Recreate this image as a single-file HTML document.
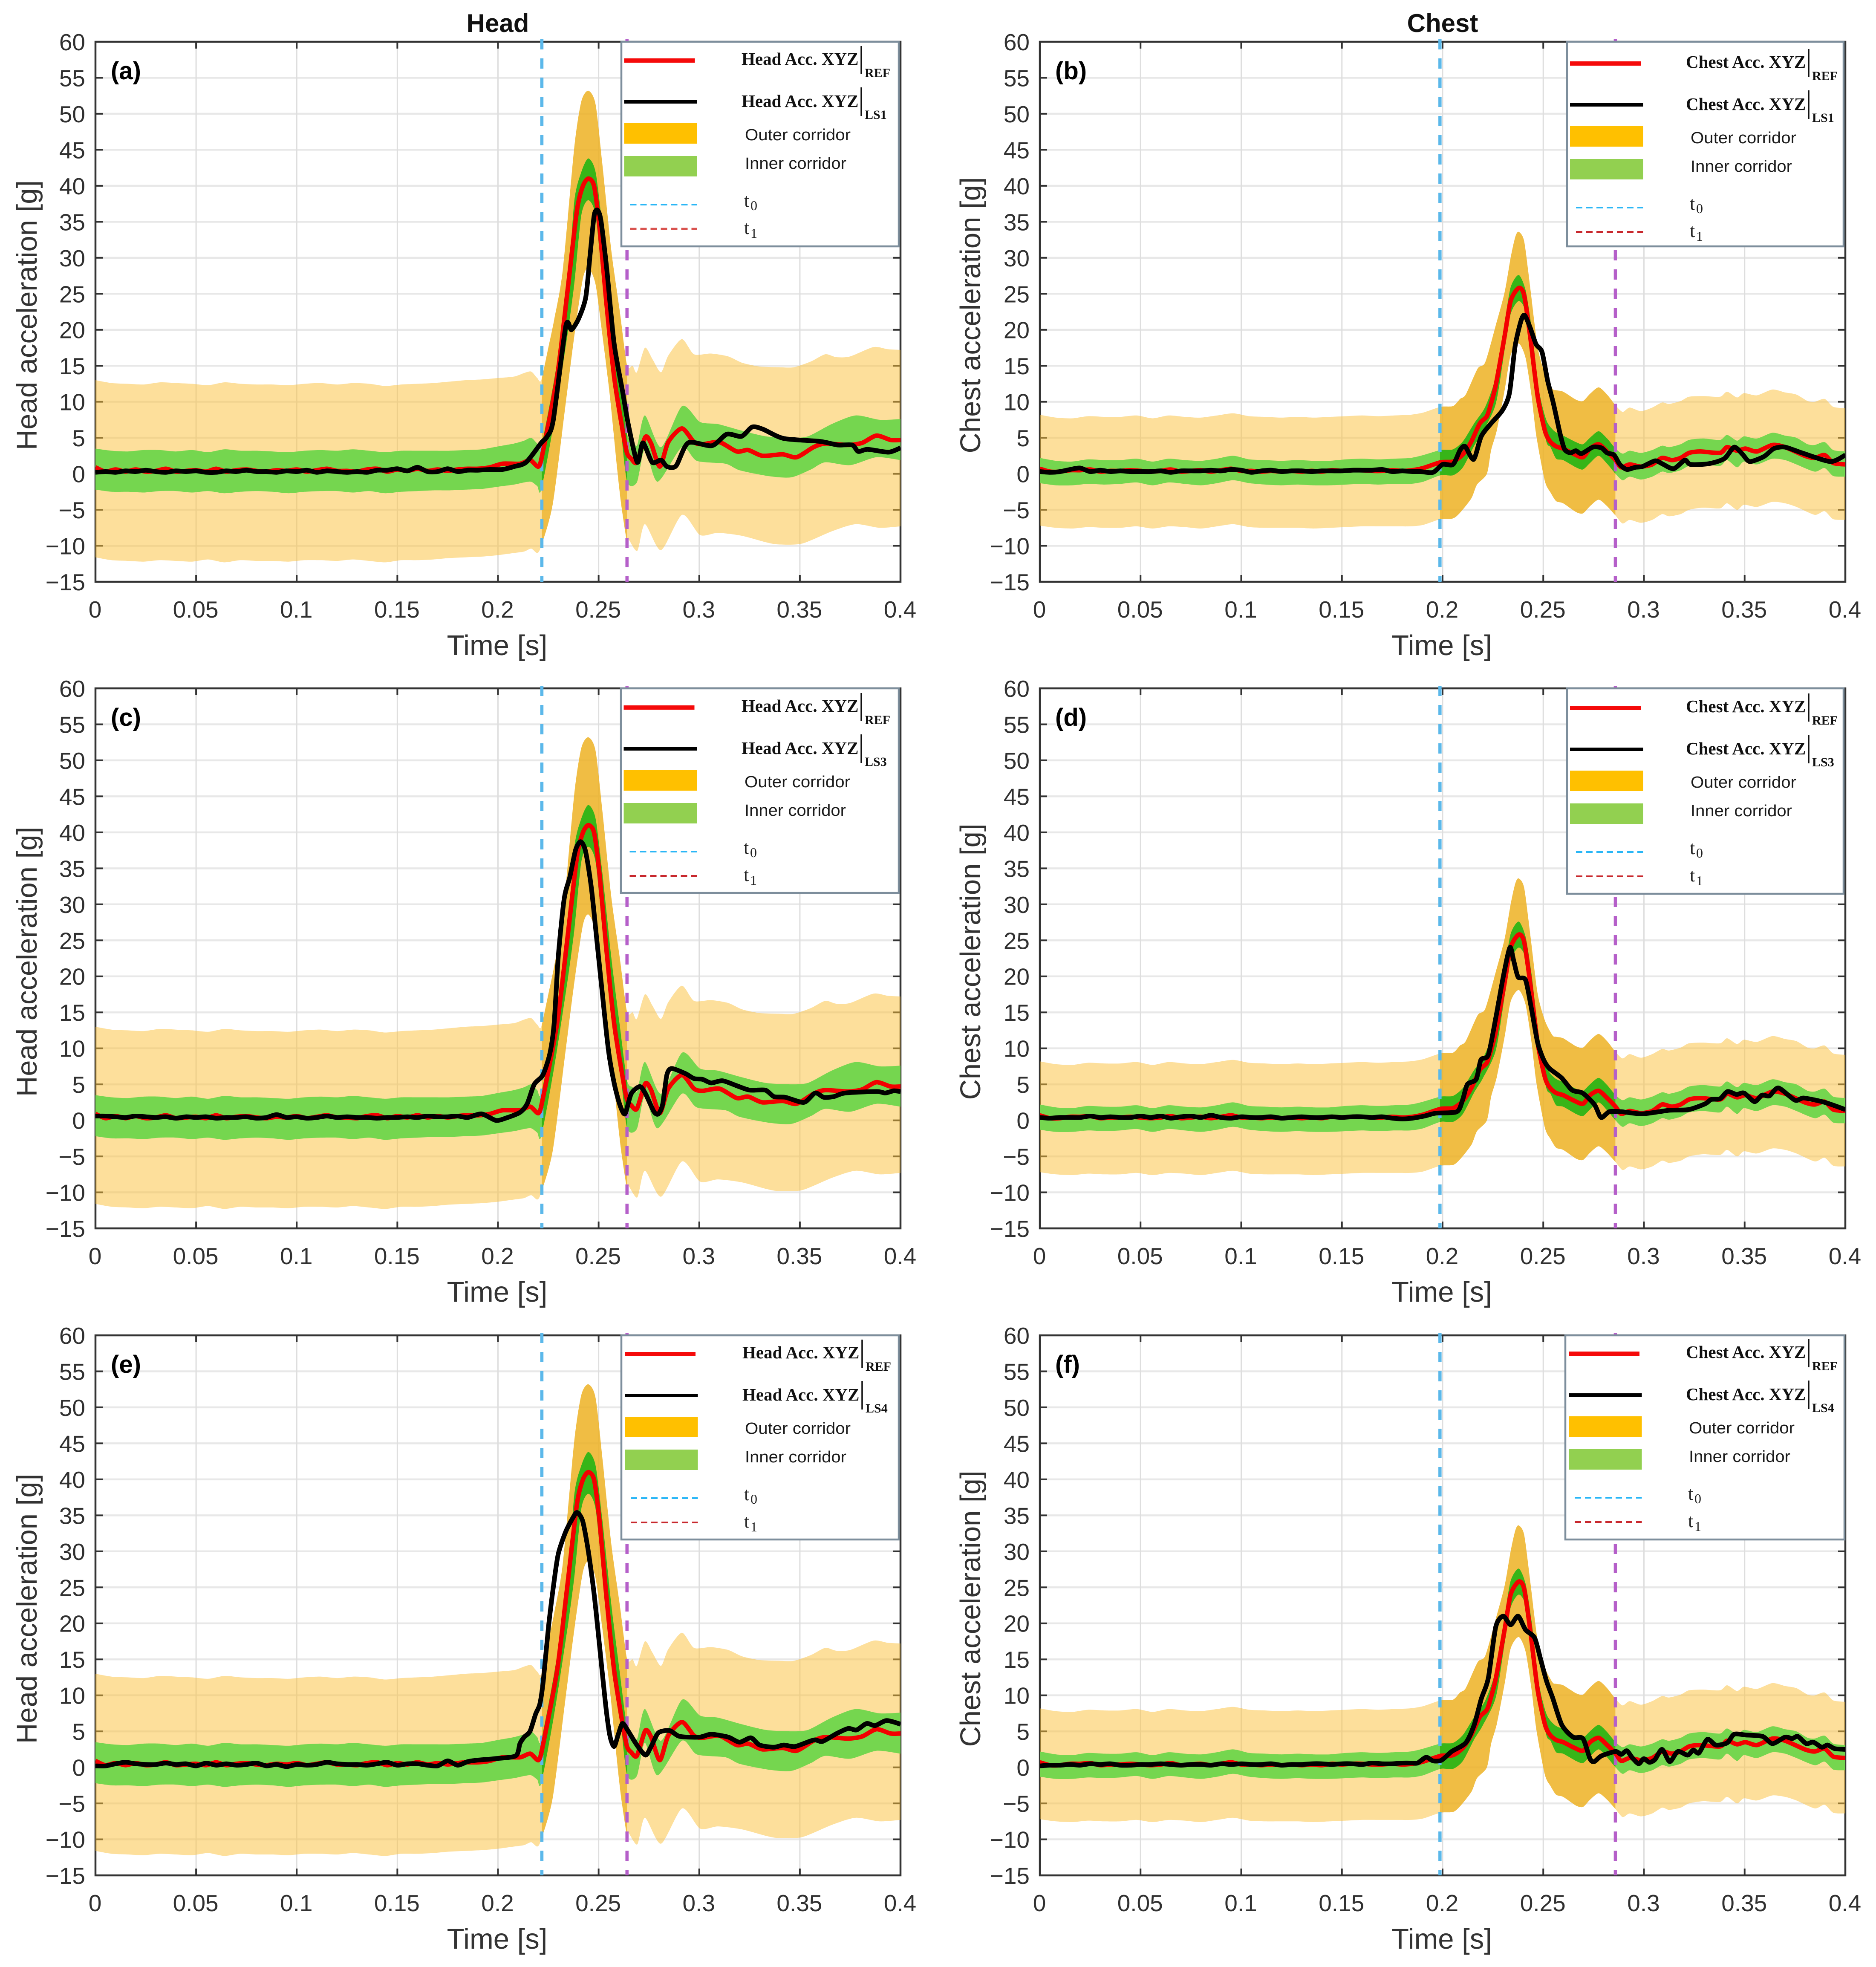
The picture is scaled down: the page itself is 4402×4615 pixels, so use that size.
<!DOCTYPE html>
<html lang="en">
<head>
<meta charset="utf-8">
<title>Head and chest acceleration corridors</title>
<style>
html,body{margin:0;padding:0;background:#fff;}
svg{display:block;}
text{font-family:"Liberation Sans",sans-serif;}
.tick{font-size:55px;fill:#303030;}
.axis-title{font-size:67px;fill:#333;}
.panel-title{font-size:60px;font-weight:bold;fill:#111;}
.letter{font-size:58px;font-weight:bold;fill:#000;}
.lg-serif{font-family:"Liberation Serif",serif;font-size:41px;font-weight:bold;fill:#111;}
.lg-sub{font-family:"Liberation Serif",serif;font-size:30px;font-weight:bold;fill:#111;}
.lg-sans{font-size:38px;fill:#1a1a1a;}
.lg-t{font-family:"Liberation Serif",serif;font-size:44px;fill:#222;}
.lg-ts{font-family:"Liberation Serif",serif;font-size:32px;fill:#222;}
</style>
</head>
<body>
<svg id="figure" xmlns="http://www.w3.org/2000/svg" width="4402" height="4615" viewBox="0 0 4402 4615">
<rect x="0" y="0" width="4402" height="4615" fill="#fff"/>
</svg>
<script>
/* ---------- axis labels ---------- */
const yTickValues=[-15,-10,-5,0,5,10,15,20,25,30,35,40,45,50,55,60];
const yTickLabels=['\u221215','\u221210','\u22125','0','5','10','15','20','25','30','35','40','45','50','55','60'];
const xTickValues=[0,0.05,0.1,0.15,0.2,0.25,0.3,0.35,0.4];
const xTickLabels=['0','0.05','0.1','0.15','0.2','0.25','0.3','0.35','0.4'];

/* ---------- shared pre-impact sample times ---------- */
const flatT=[0,.008,.016,.024,.032,.04,.048,.056,.064,.072,.08,.088,.096,.104,.112,.12,.128,.136,.144,.152,.16,.168,.176,.184];
const lineT=[0,.005,.01,.015,.02,.025,.03,.035,.04,.045,.05,.055,.06,.065,.07,.075,.08,.085,.09,.095,.1,.105,.11,.115,.12,.125,.13,.135,.14,.145,.15,.155,.16,.165,.17,.175,.18,.185];

/* ---------- head corridors ---------- */
const headOuterUpperT=[.192,.2,.208,.213,.2165,.2195,.2215,.225,.228,.2322,.2379,.2414,.2449,.2485,.252,.2563,.2605,.2641,.2669,.269,.273,.2768,.281,.2846,.2914,.2974,.3058,.3144,.3215,.33,.34,.347,.3555,.3626,.368,.375,.3866,.3936,.4];
const headOuterUpperV=[13.1,13.3,13.5,14,14.2,13.3,13,17.5,21.5,28.3,45.3,51.7,53.2,51.3,42.6,31,22.6,15.1,15,14.1,17.5,15.9,14.1,16.4,18.7,16.6,16.7,16.3,15.4,14.9,14.8,14.8,15.6,16.6,16.2,16.3,17.6,17.3,17.2];
const headOuterUpperFlat=[13,12.6,12.5,12.4,12.7,12.6,12.5,12.3,12.7,12.5,12.4,12.4,12.3,12.5,12.6,12.4,12.6,12.5,12.2,12.4,12.5,12.6,12.8,13];
const headOuterLowerT=[.192,.2,.208,.213,.2165,.2195,.2215,.2272,.2336,.2379,.2421,.2449,.2485,.252,.2556,.2591,.2612,.2641,.2647,.2692,.273,.281,.2915,.3004,.3093,.321,.333,.339,.351,.3658,.3777,.3896,.4];
const headOuterLowerV=[-11.5,-11.3,-11,-10.8,-10.4,-11,-10,-4.2,9.7,19.1,27,28.6,26.3,19,10.8,1,-4.2,-9.5,-9,-10.7,-7,-10.6,-5.7,-8.5,-8.2,-8.6,-9.5,-9.8,-9.7,-8,-7,-7.5,-7.3];
const headOuterLowerFlat=[-11.6,-12,-12.1,-12.2,-12,-12.1,-12.2,-11.9,-12.3,-12,-12.1,-12.1,-12.2,-12,-12,-12.1,-11.9,-12.1,-12.3,-12,-12,-11.9,-11.7,-11.6];
const headInnerUpperT=[.192,.2,.208,.213,.2165,.2195,.2215,.228,.2343,.2379,.2414,.2449,.2485,.252,.2563,.2605,.2641,.2669,.2692,.273,.281,.2915,.3004,.3093,.321,.333,.345,.354,.3658,.3777,.3896,.4];
const headInnerUpperV=[3.4,3.8,4.2,4.6,5,4.2,3.8,13.2,24.5,37.8,41.9,43.8,41.9,34,22.6,13.2,5.6,4.6,4,8.1,3.7,9.4,7.2,6.9,6,5.2,5,5.2,6.9,8.1,7.5,7.6];
const headInnerUpperFlat=[3.5,3.2,3.1,3.3,3.3,3.1,3.3,3.0,3.4,3.2,3.2,3.1,3,3.2,3.3,3.2,3.4,3.2,3,3.2,3.2,3.2,3.2,3.3];
const headInnerLowerT=[.192,.2,.208,.213,.2165,.2195,.2215,.228,.2343,.2379,.2414,.2449,.2485,.252,.2563,.2605,.2641,.269,.273,.2793,.2914,.2988,.313,.32,.334,.3456,.3555,.3626,.375,.388,.4];
const headInnerLowerV=[-2.1,-1.8,-1.5,-1.2,-1.1,-1.7,-2.2,7.5,18.9,26.4,35.9,38,35.9,26.4,16.2,7.5,-1,-1.2,3.4,-1.1,3.7,1.8,1.4,.5,-.3,-.5,.6,1.6,1.2,2.3,1.9];
const headInnerLowerFlat=[-2.2,-2.5,-2.5,-2.6,-2.4,-2.4,-2.6,-2.4,-2.7,-2.5,-2.4,-2.5,-2.7,-2.5,-2.4,-2.4,-2.6,-2.4,-2.7,-2.5,-2.4,-2.3,-2.3,-2.2];

/* ---------- head curves ---------- */
const headRefFlat=[.9,.3,.6,.3,.6,.3,.4,.7,.3,.4,.5,.3,.7,.3,.5,.6,.4,.3,.5,.4,.6,.3,.5,.7,.4,.4,.3,.6,.7,.3,.6,.4,.7,.4,.6,.4,.6,.7];
const headRefT=[.19,.196,.2023,.211,.216,.2201,.2222,.2294,.2343,.2392,.2421,.2449,.2478,.2506,.2535,.2577,.262,.2641,.2662,.269,.2732,.2761,.2804,.2846,.2914,.2974,.3016,.31,.3186,.3243,.3314,.3414,.3484,.3568,.3626,.374,.381,.388,.3951,.4];
const headRefV=[.7,.9,1.4,1.4,1.9,1,2.9,13.5,24.8,36.5,39.9,41,39.9,33.8,24.8,13.5,5.9,2.9,2.1,1.6,5.1,4.2,1,4.4,6.3,4.4,4.1,4.4,3.1,3.3,2.5,2.7,2.3,3.7,4.2,4,4.3,5.3,4.7,4.7];
const headLS1Flat=[.2,.3,.2,.4,.3,.5,.3,.2,.4,.3,.4,.2,.2,.4,.3,.5,.3,.3,.2,.4,.3,.5,.2,.4,.3,.2,.3,.2,.5,.5,.7,.4,.9,.3,.3,.7,.3,.5];
const headLS1T=[.19,.196,.2022,.208,.214,.2215,.2245,.2275,.2337,.2365,.24,.2436,.2457,.2478,.2495,.2512,.2541,.2577,.262,.2648,.2692,.272,.2766,.281,.284,.2885,.2945,.3063,.3137,.321,.3263,.3316,.342,.36,.3688,.376,.379,.3837,.394,.4];
const headLS1V=[.5,.6,.6,1,1.6,4.3,5.2,7.5,20.5,20,21.5,24.5,30.2,35.9,36.6,35.1,28.3,18.1,11.3,6.8,1.6,4.3,1.6,1.9,1,1.1,4.3,3.9,5.5,5.2,6.5,6.2,4.9,4.5,4,4,3.1,3.4,3,3.6];
const headLS3Flat=[.6,.6,.5,.4,.6,.5,.4,.5,.3,.5,.4,.5,.3,.4,.4,.5,.3,.4,.8,.4,.5,.3,.4,.6,.4,.5,.4,.4,.3,.4,.4,.5,.4,.6,.5,.5,.6,.4];
const headLS3T=[.1918,.1989,.2038,.2109,.2145,.218,.2223,.2258,.2279,.23,.2329,.2357,.2386,.2411,.2435,.2464,.2492,.252,.2549,.2577,.2605,.2631,.2662,.2705,.2733,.2775,.2797,.2818,.2839,.2863,.2931,.2974,.3016,.3059,.3116,.3187,.325,.3328,.3371,.3428,.352,.3576,.3619,.3668,.3725,.3881,.3924,.3966,.4];
const headLS3V=[.9,0,.3,1.1,2.3,5,6.3,9.3,13.5,22.9,30.8,33.8,37.6,38.7,37.4,32.3,24.8,17.2,9.7,5.2,2.2,.9,3.7,4.7,3.7,1.2,.9,2.2,6.3,7.2,6.5,5.8,5.7,5.2,5.5,4.8,4.2,4.2,3.3,3.2,2.5,3.8,3.2,3.3,3.8,4,3.8,4.1,4];
const headLS4Flat=[.2,.2,.5,.7,.5,.4,.4,.6,.4,.5,.2,.6,.3,.5,.3,.4,.6,.2,.4,.1,.4,.3,.4,.7,.5,.4,.4,.3,.5,.7,.3,.5,.5,.3,.2,.9,.3,.8];
const headLS4T=[.1897,.1982,.2088,.2109,.213,.2159,.2187,.2208,.2225,.2251,.2279,.23,.2336,.2371,.2393,.2421,.2449,.2478,.2506,.2534,.2556,.2577,.2598,.2619,.2648,.269,.2733,.2761,.2797,.2853,.2903,.3002,.3059,.3144,.32,.3257,.33,.3371,.342,.3477,.3569,.3612,.3683,.374,.3782,.3832,.3874,.3931,.4];
const headLS4V=[1,1.2,1.6,3.3,4.2,5,7.4,8.8,12,19.5,25.9,29.7,32.7,34.6,35.4,34.2,30,24,16.5,8.9,4.4,2.9,4.6,6.1,5,3.1,1.7,2.9,4.8,5.1,4.3,4.2,4.6,4.2,3.5,4.1,3.1,2.8,3.1,2.9,3.8,3.6,4.7,5.4,5.2,6.1,5.8,6.5,6];

/* ---------- chest corridors ---------- */
const chestOuterUpperFlat=[8.2,7.8,7.7,8,7.9,7.9,8.1,7.7,8.1,7.9,7.8,8.1,8.4,8,7.9,7.8,7.9,7.8,7.9,8,8.1,8,8.1,8.2];
const chestOuterUpperT=[.1904,.199,.2052,.2087,.2115,.2174,.2212,.2264,.2308,.2338,.2361,.2378,.2405,.2435,.2472,.2509,.2546,.2564,.2599,.2662,.2697,.2732,.2775,.2817,.2859,.2894,.2929,.2985,.3041,.309,.3125,.3182,.3224,.3294,.3378,.3413,.3462,.3497,.3561,.3638,.3701,.3757,.3813,.3848,.3897,.394,.4];
const chestOuterUpperV=[8.5,9.3,9.4,10.4,11,14.6,15.5,20.6,25.2,30,32.9,33.6,32.3,25.9,17.6,13.8,11.8,11.6,11.4,10.3,10.1,11.1,12,11,9.5,8.6,9.2,8.7,9.2,9.9,9.7,10.1,10.7,10.8,10.7,11.4,10.6,11.2,10.9,11.7,11.3,11,10.1,10,10.4,9.3,9.1];
const chestOuterLowerFlat=[-7.2,-7.5,-7.6,-7.4,-7.5,-7.5,-7.3,-7.6,-7.3,-7.4,-7.6,-7.3,-7,-7.4,-7.5,-7.5,-7.5,-7.6,-7.5,-7.4,-7.3,-7.3,-7.3,-7.3];
const chestOuterLowerT=[.1904,.199,.2052,.2087,.2143,.2171,.222,.2241,.2269,.2308,.2338,.2378,.2412,.2442,.2466,.2508,.2536,.2564,.2599,.2662,.2697,.2732,.2775,.2817,.2859,.2894,.2929,.2985,.3041,.309,.3125,.3182,.3224,.3294,.3378,.3413,.3462,.3497,.3561,.3638,.3701,.3757,.3848,.3897,.394,.4];
const chestOuterLowerV=[-7.1,-6.3,-6.2,-5.4,-3.4,-1.5,0,3.3,6,11.6,16.5,18.1,16.1,10.8,5.2,-1,-2.6,-3.8,-4.1,-5.3,-5.5,-4.5,-3.6,-4.5,-5.8,-6.9,-6.4,-6.8,-6.4,-5.6,-5.9,-5.6,-5,-4.7,-4.8,-4.1,-5,-4.3,-4.6,-3.9,-4.1,-4.6,-5.7,-5.2,-6.3,-6.4];
const chestInnerUpperFlat=[2.2,1.8,1.7,2,1.9,1.9,2.1,1.7,2.1,1.9,1.8,2.1,2.5,2,1.9,1.8,1.9,1.8,1.8,2,2.1,2,2.1,2.2];
const chestInnerUpperT=[.1904,.199,.2052,.2101,.2157,.2212,.2264,.2308,.2338,.2378,.2412,.2442,.2479,.2516,.2556,.2599,.2662,.2697,.2732,.2775,.2817,.2859,.2894,.2929,.2985,.3041,.309,.3125,.3182,.3224,.3294,.3378,.3413,.3462,.3497,.3561,.3638,.3701,.3757,.3813,.3848,.3897,.394,.4];
const chestInnerUpperV=[2.6,3.3,3.4,4.5,7,9.3,13.5,21,25.9,27.6,25.5,20.3,11.6,7.4,5.9,5.3,4.4,4.1,5,5.9,4.9,3.5,2.8,3.2,2.9,3.3,3.9,3.7,4.1,4.7,4.9,4.7,5.4,4.6,5.2,4.9,5.7,5.3,5,4.1,4,4.4,3.3,3.1];
const chestInnerLowerFlat=[-1.3,-1.6,-1.6,-1.4,-1.5,-1.4,-1.2,-1.6,-1.2,-1.4,-1.6,-1.3,-.9,-1.3,-1.5,-1.6,-1.5,-1.6,-1.6,-1.5,-1.4,-1.5,-1.4,-1.4];
const chestInnerLowerT=[.1904,.199,.2052,.2101,.2157,.2199,.2264,.2308,.2338,.2378,.2412,.2442,.2479,.2516,.2536,.2564,.2599,.2662,.2697,.2732,.2775,.2817,.2859,.2894,.2929,.2985,.3041,.309,.3125,.3182,.3224,.3294,.3378,.3413,.3462,.3497,.3561,.3638,.3701,.3757,.3848,.3897,.394,.4];
const chestInnerLowerV=[-1.1,-.2,-.2,.9,3.9,5.8,9.7,17.2,22.2,24,22.5,16.5,9.3,4.4,3.7,2.1,1.9,.9,.6,1.5,2.5,1.4,0,-.9,-.4,-.8,-.4,.3,.1,.5,1.1,1.3,1.1,1.9,.9,1.7,1.3,2.1,1.9,1.3,.3,.8,-.3,-.4];

/* ---------- chest curves ---------- */
const chestRefFlat=[.7,.3,.3,.5,.5,.6,.3,.4,.4,.5,.4,.3,.4,.6,.3,.4,.5,.3,.5,.7,.4,.4,.3,.4,.3,.4,.3,.4,.3,.5,.4,.5,.5,.4,.4,.5,.4,.5];
const chestRefT=[.1904,.199,.2052,.2101,.2143,.2185,.222,.2241,.2264,.2308,.2338,.2378,.2405,.2435,.2472,.2509,.2534,.2564,.2599,.2648,.2697,.2732,.2775,.2817,.2859,.2887,.2929,.2985,.3041,.309,.3139,.3182,.3224,.328,.3378,.3413,.3462,.3504,.3561,.3638,.3701,.3799,.3848,.3897,.394,.4];
const chestRefV=[.8,1.6,1.7,2.7,4.5,7,8,9.8,12.3,19.1,24,25.8,24.8,19.1,10.8,5.9,4.5,3.8,3.5,2.8,2.3,3.5,4.1,3.1,1.9,.9,1.3,1,1.3,2.2,1.9,2.2,2.9,3.1,2.9,3.7,3.2,3.5,3.1,4,3.7,2.5,2.2,2.6,1.5,1.3];
const chestLS1Flat=[.3,.2,.3,.6,.8,.3,.5,.3,.4,.3,.3,.3,.4,.2,.4,.4,.4,.5,.4,.6,.5,.2,.4,.5,.3,.4,.4,.3,.4,.4,.4,.5,.5,.5,.6,.3,.4,.3];
const chestLS1T=[.189,.1953,.2,.2052,.2087,.2112,.2154,.2192,.2241,.2297,.2332,.236,.239,.2408,.2435,.2464,.2494,.2522,.255,.2585,.2606,.2634,.2662,.269,.2746,.2789,.2817,.2852,.288,.2915,.2957,.2992,.3055,.309,.3147,.3203,.3231,.3322,.3399,.3448,.349,.3525,.3596,.3645,.3701,.3785,.3926,.4];
const chestLS1V=[.3,.2,1.3,1.3,3.3,3.8,2,5.2,7,8.8,11.2,17.7,21.3,22,20.3,18,16.9,12.9,9.8,5.4,3.4,2.9,3.2,2.8,3.7,3.6,2.9,2.6,1.3,.6,.9,1,1.8,1.4,.7,1.9,1.3,1.4,2.1,3.7,2.7,1.7,2.4,3.5,3.7,2.9,1.7,2.6];
const chestLS3Flat=[.4,.3,.4,.4,.4,.6,.4,.5,.4,.4,.6,.4,.6,.3,.5,.6,.4,.7,.4,.3,.5,.4,.4,.5,.3,.4,.5,.4,.4,.5,.4,.5,.5,.4,.5,.3,.2,.3];
const chestLS3T=[.191,.1967,.2071,.21,.2123,.2167,.219,.2227,.2264,.2301,.2334,.2353,.2375,.2412,.2442,.2472,.2502,.2531,.2591,.2643,.2695,.2754,.2787,.2828,.2888,.2992,.3126,.3222,.3304,.3334,.3378,.3415,.346,.3497,.3549,.3586,.3623,.3668,.375,.3794,.3898,.4];
const chestLS3V=[.6,1,1.2,2.9,5,5.7,8.4,9.1,14.2,19.9,24,22.2,19.9,19.5,15.4,10.8,8.4,7.2,5.9,4.2,3.8,2.2,.4,1.2,1.2,.9,1.4,1.5,2.3,2.9,3,4,3.6,3.8,2.6,3.5,3.4,4.5,2.8,3.1,2.5,1.5];
const chestLS4Flat=[.2,.3,.3,.4,.3,.5,.4,.5,.3,.3,.4,.4,.5,.4,.3,.4,.4,.3,.5,.4,.5,.4,.4,.5,.3,.4,.4,.5,.5,.4,.5,.5,.4,.6,.5,.5,.6,.6];
const chestLS4T=[.1876,.1918,.1953,.1995,.2045,.2115,.2157,.2192,.2227,.2264,.2301,.2338,.2375,.2412,.2457,.2487,.2516,.2546,.2592,.2648,.2697,.2732,.2753,.2789,.2859,.2887,.2915,.2943,.2974,.2999,.3027,.3055,.309,.3128,.3168,.3217,.3245,.3273,.3315,.3357,.3413,.3448,.3504,.3589,.3638,.3701,.3736,.3764,.3806,.3841,.3883,.3912,.3947,.4];
const chestLS4V=[.6,1.4,.9,1,2.2,3.4,5.9,9.5,12.4,19.5,21,19.8,21,19.1,18,15,12,9.7,5.9,4.2,4,1.2,.8,1.6,2.2,1.8,2.3,1.3,.5,1.2,.7,1.1,2.5,.8,2.2,1.7,2.4,2,3.9,3.1,3.4,4.6,4.5,4.3,3.3,4.2,4,4.3,3.3,3.5,2.8,3.1,2.6,2.5];

/* ---------- helpers ---------- */
const NS='http://www.w3.org/2000/svg';
const root=document.getElementById('figure');
function make(parent,tag,attrs,text){
  const n=document.createElementNS(NS,tag);
  for(const k in attrs){n.setAttribute(k,attrs[k]);}
  if(text!==undefined){n.textContent=text;}
  parent.appendChild(n);
  return n;
}
function smoothPath(pts,moveFirst){
  let d=(moveFirst?'M':'L')+pts[0][0].toFixed(1)+' '+pts[0][1].toFixed(1);
  const k=1/8;
  for(let i=0;i<pts.length-1;i++){
    const p0=pts[Math.max(i-1,0)],p1=pts[i],p2=pts[i+1],p3=pts[Math.min(i+2,pts.length-1)];
    d+='C'+(p1[0]+(p2[0]-p0[0])*k).toFixed(1)+' '+(p1[1]+(p2[1]-p0[1])*k).toFixed(1)+' '+
      (p2[0]-(p3[0]-p1[0])*k).toFixed(1)+' '+(p2[1]-(p3[1]-p1[1])*k).toFixed(1)+' '+p2[0].toFixed(1)+' '+p2[1].toFixed(1);
  }
  return d;
}
function band(xf,yf,tU,vU,tL,vL){
  const up=tU.map((t,i)=>[xf(t),yf(vU[i])]);
  const lo=tL.map((t,i)=>[xf(t),yf(vL[i])]).reverse();
  return smoothPath(up,true)+smoothPath(lo,false)+'Z';
}

const regions={
  Head:{
    t0:.2218,t1:.2641,
    outerU:[flatT.concat(headOuterUpperT),headOuterUpperFlat.concat(headOuterUpperV)],
    outerL:[flatT.concat(headOuterLowerT),headOuterLowerFlat.concat(headOuterLowerV)],
    innerU:[flatT.concat(headInnerUpperT),headInnerUpperFlat.concat(headInnerUpperV)],
    innerL:[flatT.concat(headInnerLowerT),headInnerLowerFlat.concat(headInnerLowerV)],
    ref:[lineT.concat(headRefT),headRefFlat.concat(headRefV)],
    LS1:[lineT.concat(headLS1T),headLS1Flat.concat(headLS1V)],
    LS3:[lineT.concat(headLS3T),headLS3Flat.concat(headLS3V)],
    LS4:[lineT.concat(headLS4T),headLS4Flat.concat(headLS4V)]
  },
  Chest:{
    t0:.1987,t1:.2858,
    outerU:[flatT.concat(chestOuterUpperT),chestOuterUpperFlat.concat(chestOuterUpperV)],
    outerL:[flatT.concat(chestOuterLowerT),chestOuterLowerFlat.concat(chestOuterLowerV)],
    innerU:[flatT.concat(chestInnerUpperT),chestInnerUpperFlat.concat(chestInnerUpperV)],
    innerL:[flatT.concat(chestInnerLowerT),chestInnerLowerFlat.concat(chestInnerLowerV)],
    ref:[lineT.concat(chestRefT),chestRefFlat.concat(chestRefV)],
    LS1:[lineT.concat(chestLS1T),chestLS1Flat.concat(chestLS1V)],
    LS3:[lineT.concat(chestLS3T),chestLS3Flat.concat(chestLS3V)],
    LS4:[lineT.concat(chestLS4T),chestLS4Flat.concat(chestLS4V)]
  }
};

const panels=[
  {id:'a',region:'Head', ls:'LS1',left:224, right:2113,top:98,  bottom:1365,lg:{x:1458,y:98,  w:651,h:480,dy:0,tx:283,bar:563,rx:6.5,t1c:'#d9534f',t1w:5}},
  {id:'b',region:'Chest',ls:'LS1',left:2440,right:4330,top:98,  bottom:1365,lg:{x:3677,y:98,  w:649,h:480,dy:7,tx:280,bar:567,rx:7,t1c:'#c8282d',t1w:4}},
  {id:'c',region:'Head', ls:'LS3',left:224, right:2113,top:1615,bottom:2882,lg:{x:1457,y:1615,w:652,h:480,dy:1,tx:284,bar:564,rx:6.5,t1c:'#c8282d',t1w:4}},
  {id:'d',region:'Chest',ls:'LS3',left:2440,right:4330,top:1615,bottom:2882,lg:{x:3677,y:1615,w:649,h:482,dy:2,tx:280,bar:567,rx:7,t1c:'#c8282d',t1w:4}},
  {id:'e',region:'Head', ls:'LS4',left:224, right:2113,top:3133,bottom:4400,lg:{x:1458,y:3133,w:651,h:479,dy:0,tx:285,bar:565,rx:8,t1c:'#c8282d',t1w:4}},
  {id:'f',region:'Chest',ls:'LS4',left:2440,right:4330,top:3133,bottom:4400,lg:{x:3673,y:3133,w:655,h:479,dy:-1,tx:284,bar:571,rx:8,t1c:'#c8282d',t1w:4}}
];

/* ---------- panel titles ---------- */
const titleHead=make(root,'text',{x:1168,y:75,'text-anchor':'middle','class':'panel-title'},'Head');


const titleChest=make(root,'text',{x:3385,y:75,'text-anchor':'middle','class':'panel-title'},'Chest');



const defs=make(root,'defs',{});

panels.forEach(function(p){
  const R=regions[p.region];
  const low=p.region.toLowerCase();
  const xScale=function(t){return p.left+t/0.4*(p.right-p.left);};
  const yScale=function(v){return p.top+(60-v)/75*(p.bottom-p.top);};

  const g=make(root,'g',{});
  
  

  const plotClip=make(defs,'clipPath',{id:'plot-'+p.id});
  make(plotClip,'rect',{x:p.left,y:p.top,width:p.right-p.left,height:p.bottom-p.top});
  const win=make(defs,'clipPath',{id:'window-'+p.id});
  make(win,'rect',{x:xScale(R.t0),y:p.top,width:xScale(R.t1)-xScale(R.t0),height:p.bottom-p.top});

  /* grid */
  yTickValues.forEach(function(v){
    const line=make(g,'line',{x1:p.left,x2:p.right,y1:yScale(v),y2:yScale(v),stroke:'#e8e8e8','stroke-width':4.5});
    
    
  });
  xTickValues.forEach(function(t){
    const line=make(g,'line',{x1:xScale(t),x2:xScale(t),y1:p.top,y2:p.bottom,stroke:'#dedede','stroke-width':3});
    
    
  });

  /* axes box and ticks */
  const box=make(g,'rect',{x:p.left,y:p.top,width:p.right-p.left,height:p.bottom-p.top,fill:'none',stroke:'#333','stroke-width':4.5});
  
  
  yTickValues.forEach(function(v,i){
    const a=make(g,'line',{x1:p.left,x2:p.left+17,y1:yScale(v),y2:yScale(v),stroke:'#333','stroke-width':4});
    
    
    const b=make(g,'line',{x1:p.right-17,x2:p.right,y1:yScale(v),y2:yScale(v),stroke:'#333','stroke-width':4});
    
    
    const lab=make(g,'text',{x:p.left-24,y:yScale(v)+20,'text-anchor':'end','class':'tick'},yTickLabels[i]);
    
    
  });
  xTickValues.forEach(function(t,i){
    const a=make(g,'line',{x1:xScale(t),x2:xScale(t),y1:p.bottom-16,y2:p.bottom,stroke:'#333','stroke-width':4});
    
    
    const b=make(g,'line',{x1:xScale(t),x2:xScale(t),y1:p.top,y2:p.top+16,stroke:'#333','stroke-width':4});
    
    
    const lab=make(g,'text',{x:xScale(t)-1,y:p.bottom+84,'text-anchor':'middle','class':'tick'},xTickLabels[i]);
    
    
  });

  /* corridors */
  const data=make(g,'g',{'clip-path':'url(#plot-'+p.id+')'});
  
  
  const outerD=band(xScale,yScale,R.outerU[0],R.outerU[1],R.outerL[0],R.outerL[1]);
  const innerD=band(xScale,yScale,R.innerU[0],R.innerU[1],R.innerL[0],R.innerL[1]);
  const outer=make(data,'path',{d:outerD,fill:'rgb(251,191,55)','fill-opacity':.5});
  
  
  const outerDark=make(data,'path',{d:outerD,fill:'rgb(233,174,32)','fill-opacity':.7,'clip-path':'url(#window-'+p.id+')'});
  
  
  const inner=make(data,'path',{d:innerD,fill:'#75d64f'});
  
  
  const innerDark=make(data,'path',{d:innerD,fill:'#37b518','clip-path':'url(#window-'+p.id+')'});
  
  

  /* t0, t1 markers */
  const lineT0=make(g,'line',{x1:xScale(R.t0),x2:xScale(R.t0),y1:p.top-6,y2:p.bottom,stroke:'#5bb8ea','stroke-width':7.5,'stroke-dasharray':'24 21'});
  
  
  const lineT1=make(g,'line',{x1:xScale(R.t1),x2:xScale(R.t1),y1:p.top-6,y2:p.bottom,stroke:'#b55fc9','stroke-width':7.5,'stroke-dasharray':'24 21'});
  
  

  /* curves */
  const top=make(g,'g',{'clip-path':'url(#plot-'+p.id+')'});
  
  
  const refD=smoothPath(R.ref[0].map(function(t,i){return [xScale(t),yScale(R.ref[1][i])];}),true);
  const ref=make(top,'path',{d:refD,fill:'none',stroke:'#f40000','stroke-width':10.5,'stroke-linejoin':'round'});
  
  
  const lsS=R[p.ls];
  const lsD=smoothPath(lsS[0].map(function(t,i){return [xScale(t),yScale(lsS[1][i])];}),true);
  const ls=make(top,'path',{d:lsD,fill:'none',stroke:'#000','stroke-width':11,'stroke-linejoin':'round'});
  
  

  /* axis titles */
  const xt=make(g,'text',{x:(p.left+p.right)/2-2,y:p.bottom+172,'text-anchor':'middle','class':'axis-title'},'Time [s]');
  
  
  const yx=p.left===224?86:2300;
  const yc=(p.top+p.bottom)/2+8;
  const yt=make(g,'text',{x:yx,y:yc,'text-anchor':'middle','class':'axis-title',transform:'rotate(-90 '+yx+' '+yc+')'},p.region+' acceleration [g]');
  
  
  const letter=make(g,'text',{x:p.left+36,y:p.top+88,'class':'letter'},'('+p.id+')');
  
  

  /* legend */
  const L=p.lg;
  const lg=make(g,'g',{});
  
  
  const lgBox=make(lg,'rect',{x:L.x,y:L.y,width:L.w,height:L.h,fill:'#fff',stroke:'#7d8e9c','stroke-width':4.5});
  
  
  const X0=L.x+L.rx, X1=X0+171.5, Y=L.y+L.dy;

  const refKey=make(lg,'rect',{x:X0,y:Y+39,width:166,height:10,fill:'#f50a0a'});
  
  
  const lsKey=make(lg,'rect',{x:X0,y:Y+137,width:171.5,height:8,fill:'#000'});
  
  
  const outerKey=make(lg,'rect',{x:X0,y:Y+191,width:171.5,height:48,fill:'#ffc000'});
  
  
  const innerKey=make(lg,'rect',{x:X0,y:Y+268,width:171.5,height:48,fill:'#92d050'});
  
  
  const t0Key=make(lg,'line',{x1:X0+14,x2:X1,y1:Y+382,y2:Y+382,stroke:'#29b6f6','stroke-width':4,'stroke-dasharray':'15 9'});
  
  
  const t1Key=make(lg,'line',{x1:X0+14,x2:X1,y1:Y+439,y2:Y+439,stroke:L.t1c,'stroke-width':L.t1w,'stroke-dasharray':'15 9'});
  
  

  const lab1=make(lg,'text',{x:L.x+L.tx-1,y:Y+54,'class':'lg-serif'},p.region+' Acc. XYZ');
  
  
  const bar1=make(lg,'line',{x1:L.x+L.bar,x2:L.x+L.bar,y1:Y+10,y2:Y+76,stroke:'#111','stroke-width':3.5});
  
  
  const sub1=make(lg,'text',{x:L.x+L.bar+8,y:Y+83,'class':'lg-sub'},'REF');
  
  
  const lab2=make(lg,'text',{x:L.x+L.tx-1,y:Y+153,'class':'lg-serif'},p.region+' Acc. XYZ');
  
  
  const bar2=make(lg,'line',{x1:L.x+L.bar,x2:L.x+L.bar,y1:Y+107,y2:Y+174,stroke:'#111','stroke-width':3.5});
  
  
  const sub2=make(lg,'text',{x:L.x+L.bar+8,y:Y+181,'class':'lg-sub'},p.ls);
  
  
  const lab3=make(lg,'text',{x:L.x+290,y:Y+231,'class':'lg-sans',textLength:248,lengthAdjust:'spacingAndGlyphs'},'Outer corridor');
  
  
  const lab4=make(lg,'text',{x:L.x+290,y:Y+298,'class':'lg-sans',textLength:238,lengthAdjust:'spacingAndGlyphs'},'Inner corridor');
  
  
  const lab5=make(lg,'text',{x:L.x+288,y:Y+387,'class':'lg-t'},'t');
  
  
  const lab5s=make(lg,'text',{x:L.x+303,y:Y+395,'class':'lg-ts'},'0');
  
  
  const lab6=make(lg,'text',{x:L.x+288,y:Y+451,'class':'lg-t'},'t');
  
  
  const lab6s=make(lg,'text',{x:L.x+303,y:Y+460,'class':'lg-ts'},'1');
  
  
});
</script>
</body>
</html>
